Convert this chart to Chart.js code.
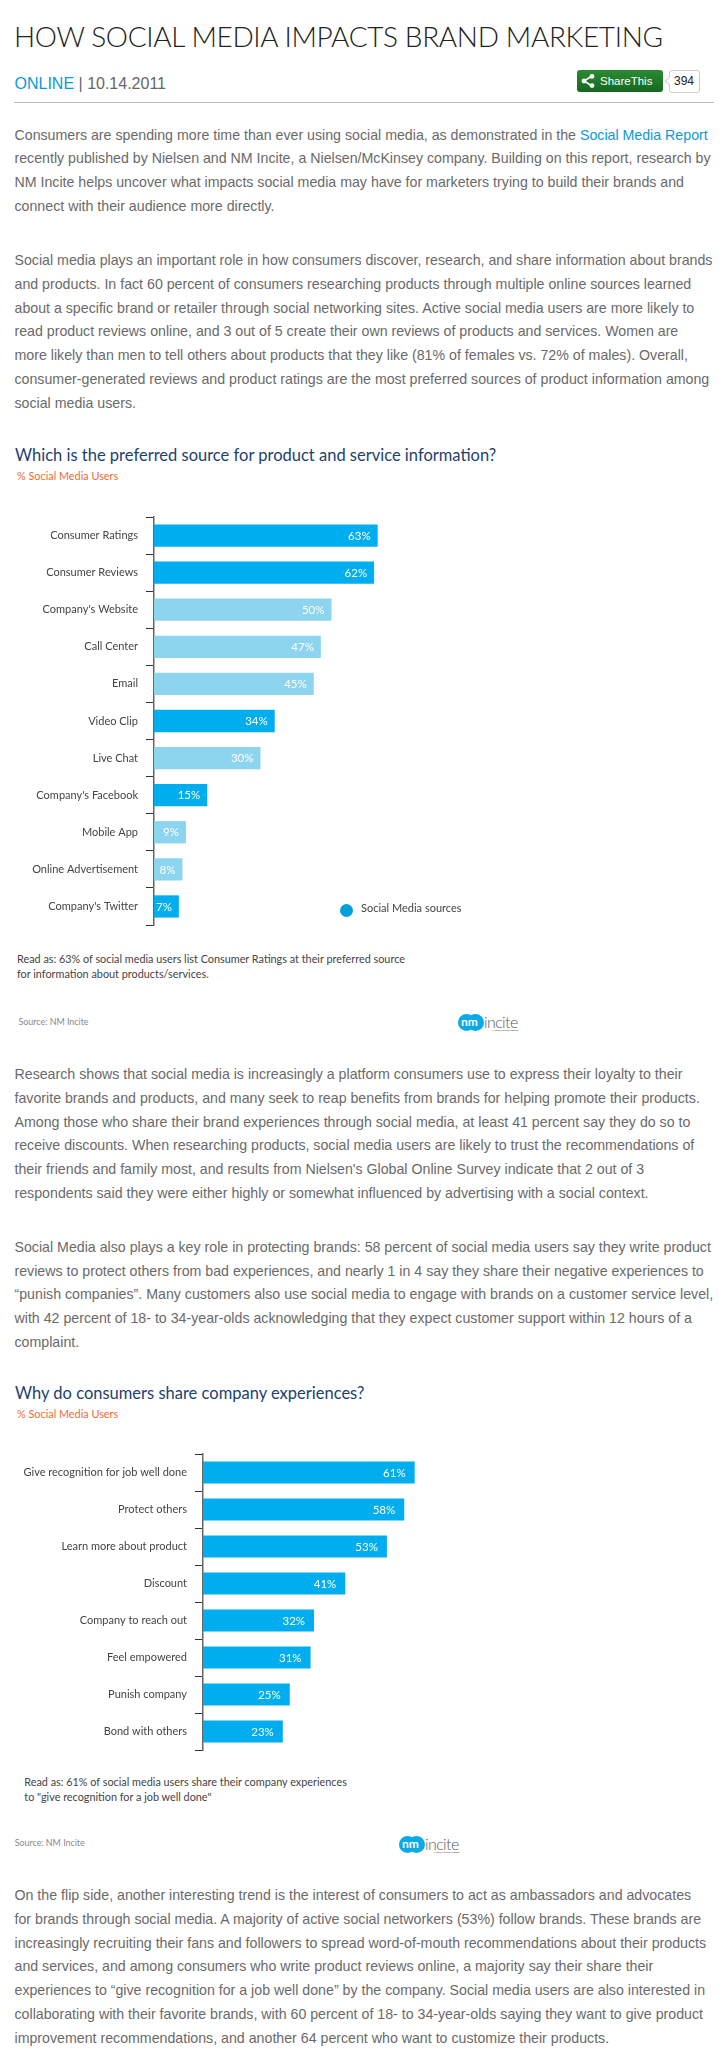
<!DOCTYPE html>
<html>
<head>
<meta charset="utf-8">
<title>How Social Media Impacts Brand Marketing</title>
<script src="https://cdn.jsdelivr.net/npm/chart.js@4"></script>
<style>
    html, body { margin: 0; padding: 0; background: #fff; }
    #page { position: relative; width: 727px; height: 2066px; overflow: hidden; }
    .t { position: absolute; white-space: pre; line-height: 20px; }
    .body { font: 14.2px "Liberation Sans", Arial, sans-serif; color: #6a6a6a; line-height: 20px; }
    .body a, .meta a { color: #0b9ad8; text-decoration: none; }
    .heading { font: 300 28px Lato, sans-serif; color: #222; letter-spacing: -0.35px; }
    .meta { font: 16px "Liberation Sans", Arial, sans-serif; color: #666; line-height: 20px; }
    .chart-title { font: 16.5px Lato, sans-serif; color: #1c3f6e; }
    .unit { font: 10.85px Lato, sans-serif; color: #ef6a3a; }
    .note { font: 10.85px Lato, sans-serif; color: #444; }
    .source { font: 8.9px Lato, sans-serif; color: #888; }
    .legend-text { font: 11px Lato, sans-serif; color: #444; }
    canvas { position: absolute; }
    #rule { position: absolute; left: 14px; top: 102px; width: 700px; height: 1px; background: #bbb; }
    #share { position: absolute; left: 577px; top: 70px; width: 86px; height: 22px; border-radius: 3px;
        background: linear-gradient(#2b8a34, #14681f); color: #fff; font: 11.5px "Liberation Sans", sans-serif;
        line-height: 22px; text-indent: 23px; }
    #share svg { position: absolute; left: 4px; top: 4px; }
    #count { position: absolute; left: 668.5px; top: 70px; width: 29px; height: 21px; border: 1px solid #ccc; border-radius: 3px;
        font: 12px "Liberation Sans", sans-serif; color: #222; line-height: 21px; text-align: center; }
    #count::before { content: ''; position: absolute; left: -4px; top: 7px; width: 5px; height: 5px; background: #fff;
        border-left: 1px solid #ccc; border-bottom: 1px solid #ccc; transform: rotate(45deg); }
    .dot { position: absolute; width: 13px; height: 13px; border-radius: 50%; background: #00a0dc; }
    .logo { position: absolute; width: 62px; height: 18px; }
    .logo i { position: absolute; top: 0; width: 17px; height: 17px; border-radius: 50%; background: #0aa9e8; }
    .logo b { position: absolute; left: 3px; top: 0; font: bold 12px/16px Lato, sans-serif; color: #fff; letter-spacing: 0; }
    .logo span { position: absolute; left: 26px; top: -2px; font: 300 16px/20px Lato, sans-serif; color: #556; letter-spacing: -0.6px; }
    .logo em { position: absolute; left: 34px; top: 14.5px; font: normal 2px/3px Lato, sans-serif; color: #333; white-space: nowrap; }
</style>
</head>
<body>
<div id="page">
    <div id="rule"></div>
    <div id="share"><svg width="14" height="14" viewBox="0 0 14 14"><path d="M11 2 L3 7 L11 12" stroke="#fff" stroke-width="1.6" fill="none"/><circle cx="3" cy="7" r="2.4" fill="#fff"/><circle cx="11" cy="2.4" r="2.4" fill="#fff"/><circle cx="11" cy="11.6" r="2.4" fill="#fff"/></svg>ShareThis</div>
    <div id="count">394</div>
    <canvas id="sourceChart" width="509" height="412" style="left:0;top:515px;width:509px;height:412px"></canvas>
    <canvas id="shareChart" width="550" height="300" style="left:0;top:1452px;width:550px;height:300px"></canvas>
    <div class="dot" style="left:339.5px;top:904px"></div>
    <div class="logo" style="left:458px;top:1014px"><i style="left:0"></i><i style="left:9px"></i><b>nm</b><span>incite</span><em>A Nielsen/McKinsey Company</em></div>
    <div class="logo" style="left:399px;top:1836px"><i style="left:0"></i><i style="left:9px"></i><b>nm</b><span>incite</span><em>A Nielsen/McKinsey Company</em></div>
</div>
<script>
// Chart 1 data
const sourceCategories = ['Consumer Ratings', 'Consumer Reviews', "Company's Website", 'Call Center', 'Email', 'Video Clip', 'Live Chat', "Company's Facebook", 'Mobile App', 'Online Advertisement', "Company's Twitter"];
const sourceValues = [63, 62, 50, 47, 45, 34, 30, 15, 9, 8, 7];
const sourceIsSocial = [true, true, false, false, false, true, false, true, false, false, true];

// Chart 2 data
const shareCategories = ['Give recognition for job well done', 'Protect others', 'Learn more about product', 'Discount', 'Company to reach out', 'Feel empowered', 'Punish company', 'Bond with others'];
const shareValues = [61, 58, 53, 41, 32, 31, 25, 23];

// Article text, one entry per printed line
const para1 = [
    'Consumers are spending more time than ever using social media, as demonstrated in the <a>Social Media Report</a>',
    'recently published by Nielsen and NM Incite, a Nielsen/McKinsey company. Building on this report, research by',
    'NM Incite helps uncover what impacts social media may have for marketers trying to build their brands and',
    'connect with their audience more directly.'
];
const para2 = [
    'Social media plays an important role in how consumers discover, research, and share information about brands',
    'and products. In fact 60 percent of consumers researching products through multiple online sources learned',
    'about a specific brand or retailer through social networking sites. Active social media users are more likely to',
    'read product reviews online, and 3 out of 5 create their own reviews of products and services. Women are',
    'more likely than men to tell others about products that they like (81% of females vs. 72% of males). Overall,',
    'consumer-generated reviews and product ratings are the most preferred sources of product information among',
    'social media users.'
];
const para3 = [
    'Research shows that social media is increasingly a platform consumers use to express their loyalty to their',
    'favorite brands and products, and many seek to reap benefits from brands for helping promote their products.',
    'Among those who share their brand experiences through social media, at least 41 percent say they do so to',
    'receive discounts. When researching products, social media users are likely to trust the recommendations of',
    "their friends and family most, and results from Nielsen's Global Online Survey indicate that 2 out of 3",
    'respondents said they were either highly or somewhat influenced by advertising with a social context.'
];
const para4 = [
    'Social Media also plays a key role in protecting brands: 58 percent of social media users say they write product',
    'reviews to protect others from bad experiences, and nearly 1 in 4 say they share their negative experiences to',
    '\u201Cpunish companies\u201D. Many customers also use social media to engage with brands on a customer service level,',
    'with 42 percent of 18- to 34-year-olds acknowledging that they expect customer support within 12 hours of a',
    'complaint.'
];
const para5 = [
    'On the flip side, another interesting trend is the interest of consumers to act as ambassadors and advocates',
    'for brands through social media. A majority of active social networkers (53%) follow brands. These brands are',
    'increasingly recruiting their fans and followers to spread word-of-mouth recommendations about their products',
    'and services, and among consumers who write product reviews online, a majority say their share their',
    'experiences to \u201Cgive recognition for a job well done\u201D by the company. Social media users are also interested in',
    'collaborating with their favorite brands, with 60 percent of 18- to 34-year-olds saying they want to give product',
    'improvement recommendations, and another 64 percent who want to customize their products.'
];

const DARK_BLUE = '#00aeef';
const LIGHT_BLUE = '#8dd4ef';

const page = document.getElementById('page');

// Puts one line of text with its vertical middle at y
function addText(html, x, y, cls) {
    const el = document.createElement('div');
    el.className = 't ' + cls;
    el.style.left = x + 'px';
    el.style.top = (y - 10) + 'px';
    el.innerHTML = html;
    page.appendChild(el);
}

function addParagraph(lines, ys) {
    lines.forEach((line, i) => addText(line, 14.5, ys[i], 'body'));
}

addText('HOW SOCIAL MEDIA IMPACTS BRAND MARKETING', 14, 28.5, 'heading');
addText('<a>ONLINE</a> | 10.14.2011', 14.5, 84, 'meta');

addParagraph(para1, [135, 158, 182, 206]);
addParagraph(para2, [260, 284, 308, 331, 355, 379, 403]);
addParagraph(para3, [1074, 1098, 1122, 1145, 1169, 1193]);
addParagraph(para4, [1247, 1271, 1294, 1318, 1342]);
addParagraph(para5, [1895, 1919, 1943, 1966, 1990, 2014, 2038]);

addText('Which is the preferred source for product and service information?', 15, 454.5, 'chart-title');
addText('% Social Media Users', 17, 478.5, 'unit');
addText('Social Media sources', 361, 911, 'legend-text');
addText('Read as: 63% of social media users list Consumer Ratings at their preferred source', 17, 962, 'note');
addText('for information about products/services.', 17, 977, 'note');
addText('Source: NM Incite', 18.5, 1026, 'source');

addText('Why do consumers share company experiences?', 15, 1393, 'chart-title');
addText('% Social Media Users', 17, 1416.5, 'unit');
addText('Read as: 61% of social media users share their company experiences', 24.3, 1785, 'note');
addText('to "give recognition for a job well done"', 24.3, 1800, 'note');
addText('Source: NM Incite', 14.7, 1847, 'source');

// White percent label inside the end of each bar
const valueLabels = {
    id: 'valueLabels',
    afterDatasetsDraw(chart, args, opts) {
        const ctx = chart.ctx;
        const ds = chart.data.datasets[0];
        ctx.save();
        ctx.font = '11.5px Lato, sans-serif';
        ctx.fillStyle = '#fff';
        ctx.textAlign = 'right';
        ctx.textBaseline = 'middle';
        chart.getDatasetMeta(0).data.forEach((bar, i) => {
            ctx.fillText(ds.data[i] + '%', bar.x - opts.inset, bar.y + 0.5);
        });
        ctx.restore();
    }
};

function drawBars(canvasId, labels, values, colors, axisLeft, labelInset) {
    return new Chart(document.getElementById(canvasId), {
        type: 'bar',
        data: {
            labels: labels,
            datasets: [{
                data: values,
                backgroundColor: colors,
                borderSkipped: false,
                barPercentage: 0.6,
                categoryPercentage: 1
            }]
        },
        options: {
            indexAxis: 'y',
            responsive: false,
            animation: false,
            devicePixelRatio: 1,
            layout: { padding: { top: 2, bottom: 2, right: 0, left: 0 } },
            plugins: {
                legend: { display: false },
                tooltip: { enabled: false },
                valueLabels: { inset: labelInset }
            },
            scales: {
                x: { display: false, min: 0, max: 100 },
                y: {
                    // fixed axis position, and no extra room for half a label above and below
                    afterFit(axis) {
                        axis.width = axisLeft;
                        axis.paddingTop = 0;
                        axis.paddingBottom = 0;
                    },
                    border: { color: '#666', width: 1.5 },
                    grid: {
                        offset: true,
                        drawOnChartArea: false,
                        drawTicks: true,
                        tickLength: 8,
                        tickColor: '#333',
                        tickWidth: 1
                    },
                    ticks: {
                        padding: 8,
                        color: '#444',
                        font: { family: 'Lato, sans-serif', size: 11 },
                        autoSkip: false
                    }
                }
            }
        },
        plugins: [valueLabels]
    });
}

drawBars('sourceChart', sourceCategories, sourceValues,
    sourceIsSocial.map(s => s ? DARK_BLUE : LIGHT_BLUE), 154, 7);
drawBars('shareChart', shareCategories, shareValues,
    shareValues.map(() => DARK_BLUE), 203, 9);
</script>
</body>
</html>
